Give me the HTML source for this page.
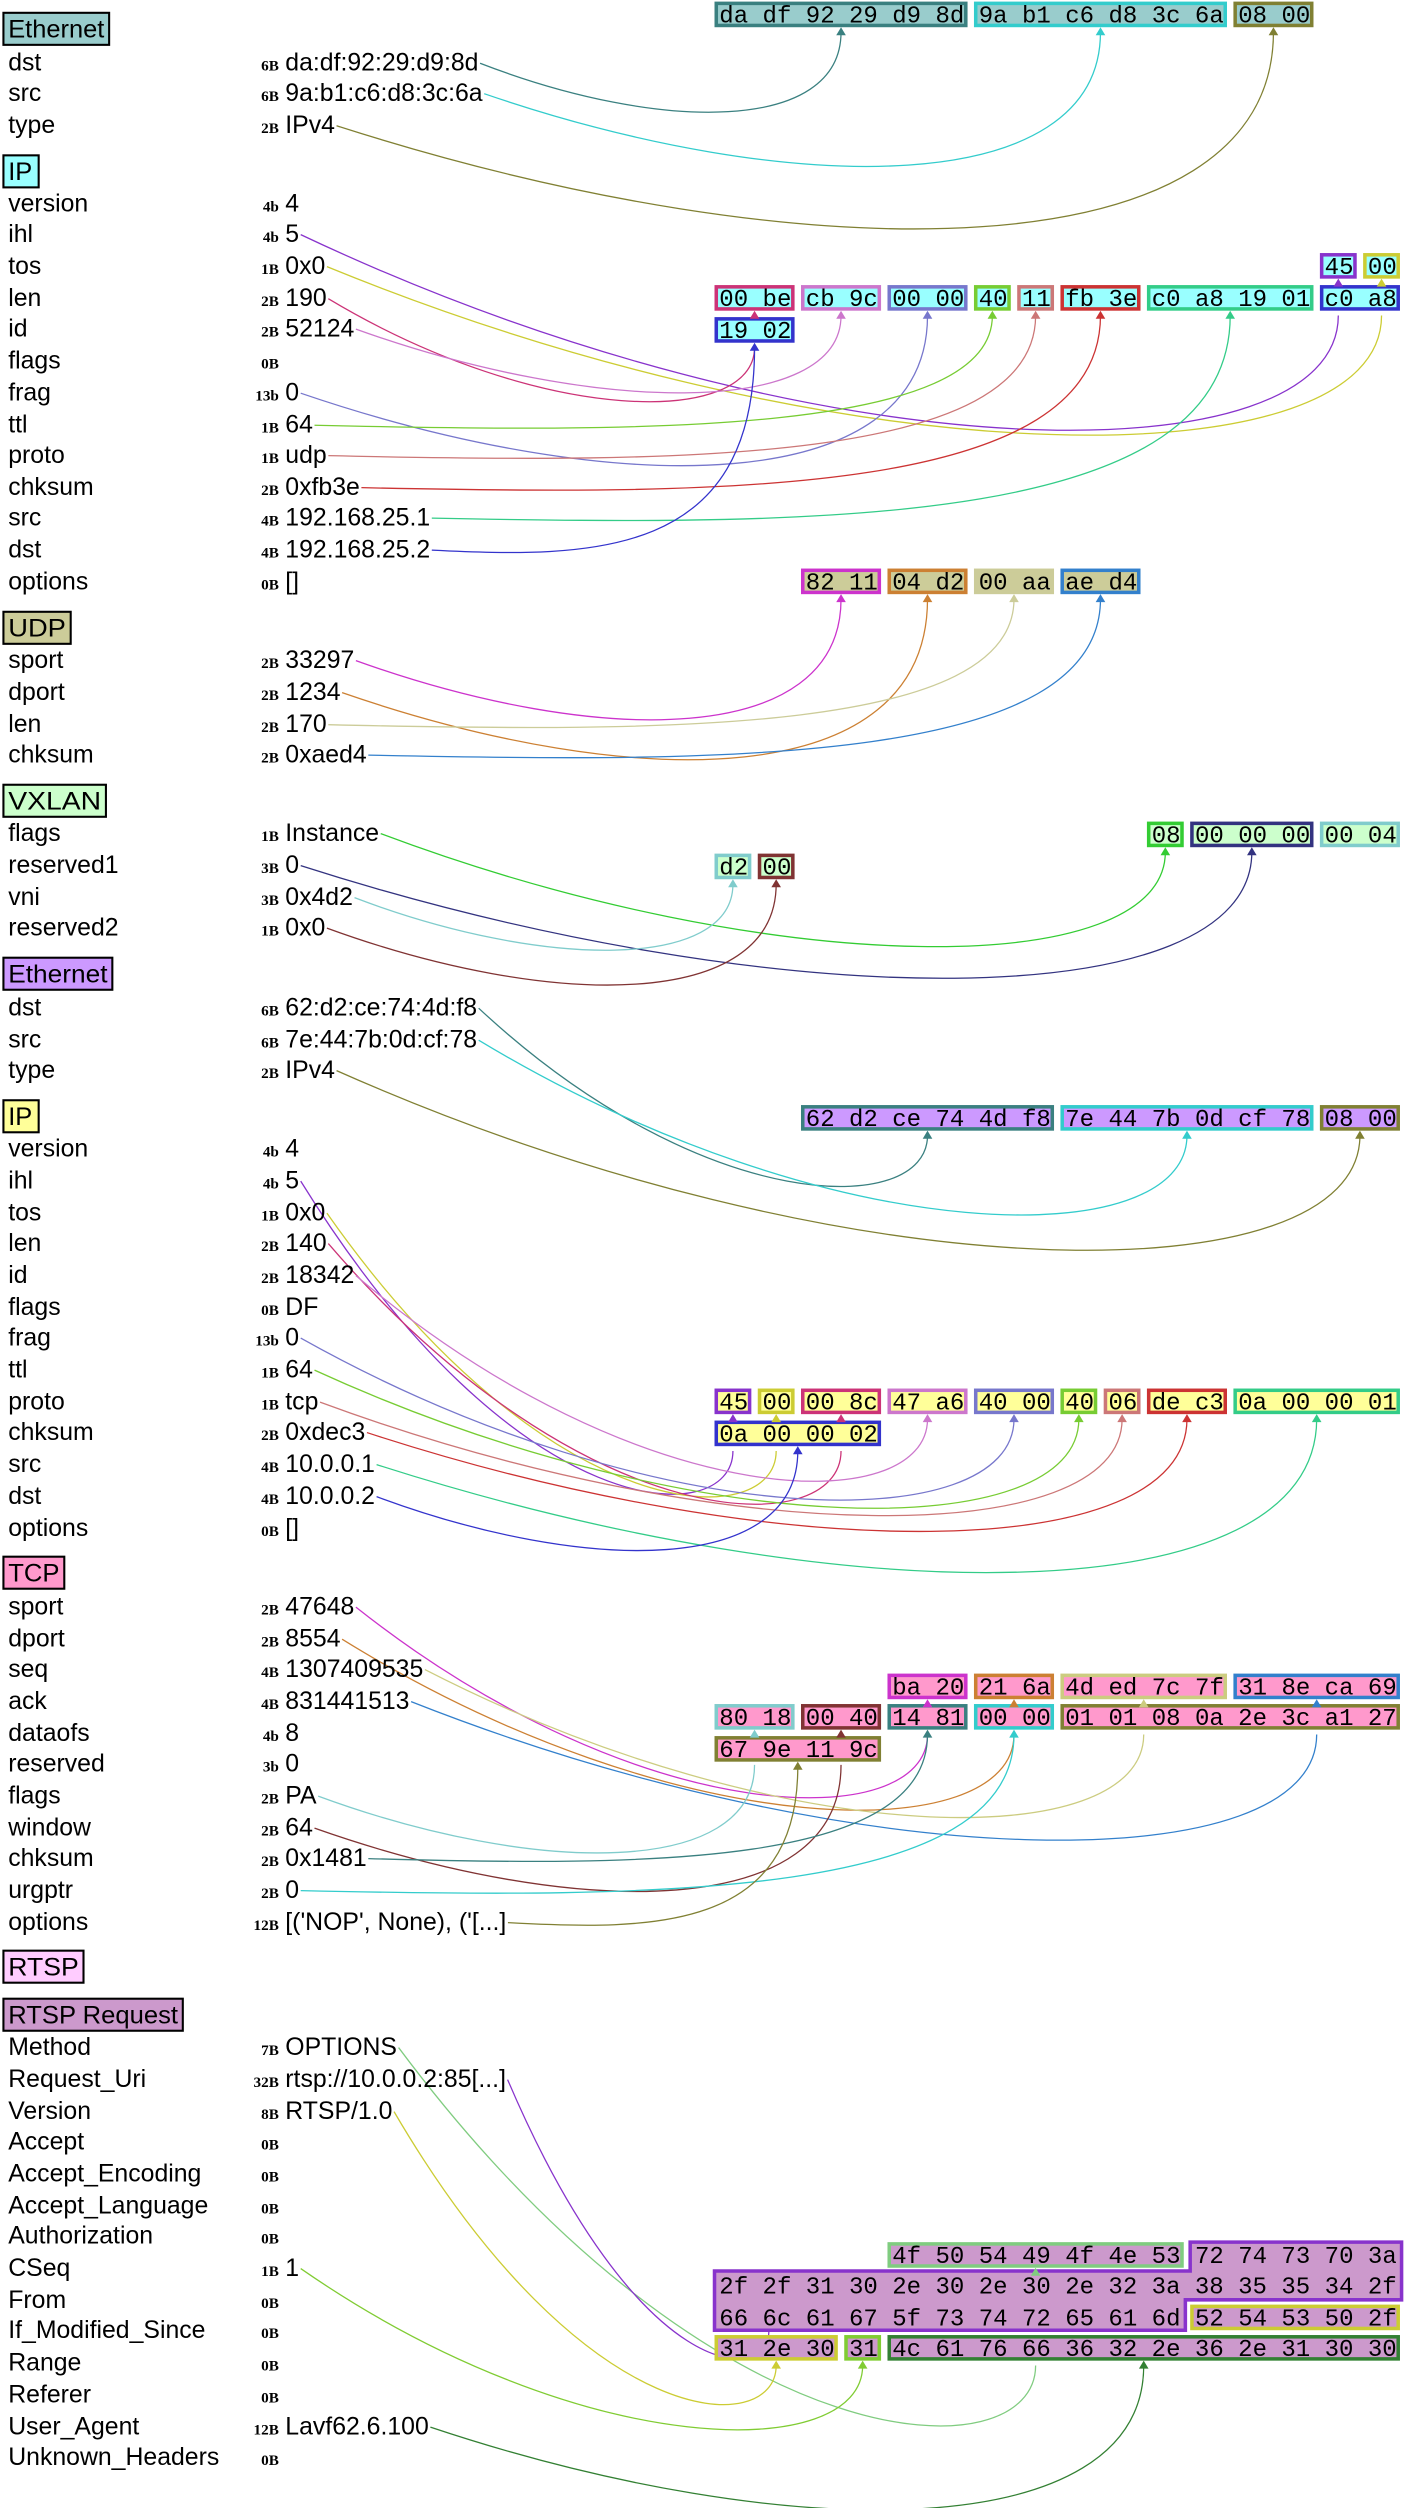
<!DOCTYPE html>
<html><head><meta charset="utf-8"><style>
html,body{margin:0;padding:0;background:#fff;}
svg{display:block;}
.n{font-family:"Liberation Sans",sans-serif;font-size:15.5px;fill:#000;}
.z{font-family:"Liberation Serif",serif;font-size:9.5px;font-weight:bold;fill:#000;text-anchor:end;}
.h{font-family:"Liberation Mono",monospace;font-size:15px;fill:#000;white-space:pre;}
</style></head><body>
<svg id="s" width="1405" height="2508" viewBox="0 0 877 1566" xmlns="http://www.w3.org/2000/svg">
<g id="paths" fill="none" stroke-width="0.8"></g>
<g id="boxes">
<path d="M743 1400 H875 V1436 H740 V1455 H446 V1418 H743 Z" fill="#cc99cc" stroke="#8833cc" stroke-width="2.2"/>
</g>
<g id="arrows"></g>
<g stroke="#000" stroke-width="1.3">
<rect x="2" y="8" width="66" height="20" fill="#99cccc"/>
<rect x="2" y="97" width="22" height="20" fill="#99ffff"/>
<rect x="2" y="382" width="42" height="20" fill="#cccc99"/>
<rect x="2" y="490" width="64" height="20" fill="#ccffcc"/>
<rect x="2" y="598" width="68" height="20" fill="#cc99ff"/>
<rect x="2" y="687" width="22" height="20" fill="#ffff99"/>
<rect x="2" y="972" width="38" height="20" fill="#ff99cc"/>
<rect x="2" y="1218" width="50" height="20" fill="#ffccff"/>
<rect x="2" y="1248" width="112" height="20" fill="#cc99cc"/>
</g>
<g class="n">
<text x="5" y="23.5" textLength="60" lengthAdjust="spacingAndGlyphs">Ethernet</text>
<text x="5" y="112.5" textLength="15" lengthAdjust="spacingAndGlyphs">IP</text>
<text x="5" y="397.5" textLength="36" lengthAdjust="spacingAndGlyphs">UDP</text>
<text x="5" y="505.5" textLength="58" lengthAdjust="spacingAndGlyphs">VXLAN</text>
<text x="5" y="613.5" textLength="62" lengthAdjust="spacingAndGlyphs">Ethernet</text>
<text x="5" y="702.5" textLength="15" lengthAdjust="spacingAndGlyphs">IP</text>
<text x="5" y="987.5" textLength="32" lengthAdjust="spacingAndGlyphs">TCP</text>
<text x="5" y="1233.5" textLength="44" lengthAdjust="spacingAndGlyphs">RTSP</text>
<text x="5" y="1263.5" textLength="106" lengthAdjust="spacingAndGlyphs">RTSP Request</text>
</g>
<g class="n">
<text x="5" y="44">dst</text><text x="5" y="63">src</text><text x="5" y="83">type</text>
<text x="5" y="132">version</text><text x="5" y="151">ihl</text><text x="5" y="171">tos</text><text x="5" y="191">len</text><text x="5" y="210">id</text><text x="5" y="230">flags</text><text x="5" y="250">frag</text><text x="5" y="270">ttl</text><text x="5" y="289">proto</text><text x="5" y="309">chksum</text><text x="5" y="328">src</text><text x="5" y="348">dst</text><text x="5" y="368">options</text>
<text x="5" y="417">sport</text><text x="5" y="437">dport</text><text x="5" y="457">len</text><text x="5" y="476">chksum</text>
<text x="5" y="525">flags</text><text x="5" y="545">reserved1</text><text x="5" y="565">vni</text><text x="5" y="584">reserved2</text>
<text x="5" y="634">dst</text><text x="5" y="654">src</text><text x="5" y="673">type</text>
<text x="5" y="722">version</text><text x="5" y="742">ihl</text><text x="5" y="762">tos</text><text x="5" y="781">len</text><text x="5" y="801">id</text><text x="5" y="821">flags</text><text x="5" y="840">frag</text><text x="5" y="860">ttl</text><text x="5" y="880">proto</text><text x="5" y="899">chksum</text><text x="5" y="919">src</text><text x="5" y="939">dst</text><text x="5" y="959">options</text>
<text x="5" y="1008">sport</text><text x="5" y="1028">dport</text><text x="5" y="1047">seq</text><text x="5" y="1067">ack</text><text x="5" y="1087">dataofs</text><text x="5" y="1106">reserved</text><text x="5" y="1126">flags</text><text x="5" y="1146">window</text><text x="5" y="1165">chksum</text><text x="5" y="1185">urgptr</text><text x="5" y="1205">options</text>
<text x="5" y="1283">Method</text><text x="5" y="1303">Request_Uri</text><text x="5" y="1323">Version</text><text x="5" y="1342">Accept</text><text x="5" y="1362">Accept_Encoding</text><text x="5" y="1382">Accept_Language</text><text x="5" y="1401">Authorization</text><text x="5" y="1421">CSeq</text><text x="5" y="1441">From</text><text x="5" y="1460">If_Modified_Since</text><text x="5" y="1480">Range</text><text x="5" y="1500">Referer</text><text x="5" y="1520">User_Agent</text><text x="5" y="1539">Unknown_Headers</text>
</g>
<g class="z">
<text x="174" y="44">6B</text><text x="174" y="63">6B</text><text x="174" y="83">2B</text>
<text x="174" y="132">4b</text><text x="174" y="151">4b</text><text x="174" y="171">1B</text><text x="174" y="191">2B</text><text x="174" y="210">2B</text><text x="174" y="230">0B</text><text x="174" y="250">13b</text><text x="174" y="270">1B</text><text x="174" y="289">1B</text><text x="174" y="309">2B</text><text x="174" y="328">4B</text><text x="174" y="348">4B</text><text x="174" y="368">0B</text>
<text x="174" y="417">2B</text><text x="174" y="437">2B</text><text x="174" y="457">2B</text><text x="174" y="476">2B</text>
<text x="174" y="525">1B</text><text x="174" y="545">3B</text><text x="174" y="565">3B</text><text x="174" y="584">1B</text>
<text x="174" y="634">6B</text><text x="174" y="654">6B</text><text x="174" y="673">2B</text>
<text x="174" y="722">4b</text><text x="174" y="742">4b</text><text x="174" y="762">1B</text><text x="174" y="781">2B</text><text x="174" y="801">2B</text><text x="174" y="821">0B</text><text x="174" y="840">13b</text><text x="174" y="860">1B</text><text x="174" y="880">1B</text><text x="174" y="899">2B</text><text x="174" y="919">4B</text><text x="174" y="939">4B</text><text x="174" y="959">0B</text>
<text x="174" y="1008">2B</text><text x="174" y="1028">2B</text><text x="174" y="1047">4B</text><text x="174" y="1067">4B</text><text x="174" y="1087">4b</text><text x="174" y="1106">3b</text><text x="174" y="1126">2B</text><text x="174" y="1146">2B</text><text x="174" y="1165">2B</text><text x="174" y="1185">2B</text><text x="174" y="1205">12B</text>
<text x="174" y="1283">7B</text><text x="174" y="1303">32B</text><text x="174" y="1323">8B</text><text x="174" y="1342">0B</text><text x="174" y="1362">0B</text><text x="174" y="1382">0B</text><text x="174" y="1401">0B</text><text x="174" y="1421">1B</text><text x="174" y="1441">0B</text><text x="174" y="1460">0B</text><text x="174" y="1480">0B</text><text x="174" y="1500">0B</text><text x="174" y="1520">12B</text><text x="174" y="1539">0B</text>
</g>
<g class="n">
<text x="178" y="44" id="e1dst">da:df:92:29:d9:8d</text><text x="178" y="63" id="e1src">9a:b1:c6:d8:3c:6a</text><text x="178" y="83" id="e1type">IPv4</text>
<text x="178" y="132">4</text><text x="178" y="151" id="i1ihl">5</text><text x="178" y="171" id="i1tos">0x0</text><text x="178" y="191" id="i1len">190</text><text x="178" y="210" id="i1id">52124</text><text x="178" y="250" id="i1frag">0</text><text x="178" y="270" id="i1ttl">64</text><text x="178" y="289" id="i1proto">udp</text><text x="178" y="309" id="i1ck">0xfb3e</text><text x="178" y="328" id="i1src">192.168.25.1</text><text x="178" y="348" id="i1dst">192.168.25.2</text><text x="178" y="368">[]</text>
<text x="178" y="417" id="usp">33297</text><text x="178" y="437" id="udp">1234</text><text x="178" y="457" id="ulen">170</text><text x="178" y="476" id="uck">0xaed4</text>
<text x="178" y="525" id="vfl">Instance</text><text x="178" y="545" id="vr1">0</text><text x="178" y="565" id="vni">0x4d2</text><text x="178" y="584" id="vr2">0x0</text>
<text x="178" y="634" id="e2dst">62:d2:ce:74:4d:f8</text><text x="178" y="654" id="e2src">7e:44:7b:0d:cf:78</text><text x="178" y="673" id="e2type">IPv4</text>
<text x="178" y="722">4</text><text x="178" y="742" id="i2ihl">5</text><text x="178" y="762" id="i2tos">0x0</text><text x="178" y="781" id="i2len">140</text><text x="178" y="801" id="i2id">18342</text><text x="178" y="821">DF</text><text x="178" y="840" id="i2frag">0</text><text x="178" y="860" id="i2ttl">64</text><text x="178" y="880" id="i2proto">tcp</text><text x="178" y="899" id="i2ck">0xdec3</text><text x="178" y="919" id="i2src">10.0.0.1</text><text x="178" y="939" id="i2dst">10.0.0.2</text><text x="178" y="959">[]</text>
<text x="178" y="1008" id="tsp">47648</text><text x="178" y="1028" id="tdp">8554</text><text x="178" y="1047" id="tseq">1307409535</text><text x="178" y="1067" id="tack">831441513</text><text x="178" y="1087">8</text><text x="178" y="1106">0</text><text x="178" y="1126" id="tfl">PA</text><text x="178" y="1146" id="twin">64</text><text x="178" y="1165" id="tck">0x1481</text><text x="178" y="1185" id="turg">0</text><text x="178" y="1205" id="topt">[('NOP', None), ('[...]</text>
<text x="178" y="1283" id="rm">OPTIONS</text><text x="178" y="1303" id="ruri">rtsp://10.0.0.2:85[...]</text><text x="178" y="1323" id="rver">RTSP/1.0</text><text x="178" y="1421" id="rcseq">1</text><text x="178" y="1520" id="rua">Lavf62.6.100</text>
</g>
<g class="h">
<text x="449" y="14">da df 92 29 d9 8d</text><text x="611" y="14">9a b1 c6 d8 3c 6a</text><text x="773" y="14">08 00</text>
<text x="827" y="171">45</text><text x="854" y="171">00</text>
<text x="449" y="191">00 be</text><text x="503" y="191">cb 9c</text><text x="557" y="191">00 00</text><text x="611" y="191">40</text><text x="638" y="191">11</text><text x="665" y="191">fb 3e</text><text x="719" y="191">c0 a8 19 01</text><text x="827" y="191">c0 a8</text>
<text x="449" y="211">19 02</text>
<text x="503" y="368">82 11</text><text x="557" y="368">04 d2</text><text x="611" y="368">00 aa</text><text x="665" y="368">ae d4</text>
<text x="719" y="526">08</text><text x="746" y="526">00 00 00</text><text x="827" y="526">00 04</text>
<text x="449" y="546">d2</text><text x="476" y="546">00</text>
<text x="503" y="703">62 d2 ce 74 4d f8</text><text x="665" y="703">7e 44 7b 0d cf 78</text><text x="827" y="703">08 00</text>
<text x="449" y="880">45</text><text x="476" y="880">00</text><text x="503" y="880">00 8c</text><text x="557" y="880">47 a6</text><text x="611" y="880">40 00</text><text x="665" y="880">40</text><text x="692" y="880">06</text><text x="719" y="880">de c3</text><text x="773" y="880">0a 00 00 01</text>
<text x="449" y="900">0a 00 00 02</text>
<text x="557" y="1058">ba 20</text><text x="611" y="1058">21 6a</text><text x="665" y="1058">4d ed 7c 7f</text><text x="773" y="1058">31 8e ca 69</text>
<text x="449" y="1077">80 18</text><text x="503" y="1077">00 40</text><text x="557" y="1077">14 81</text><text x="611" y="1077">00 00</text><text x="665" y="1077">01 01 08 0a 2e 3c a1 27</text>
<text x="449" y="1097">67 9e 11 9c</text>
<text x="557" y="1413">4f 50 54 49 4f 4e 53</text><text x="746" y="1413">72 74 73 70 3a</text>
<text x="449" y="1432">2f 2f 31 30 2e 30 2e 30 2e 32 3a 38 35 35 34 2f</text>
<text x="449" y="1452">66 6c 61 67 5f 73 74 72 65 61 6d</text><text x="746" y="1452">52 54 53 50 2f</text>
<text x="449" y="1471">31 2e 30</text><text x="530" y="1471">31</text><text x="557" y="1471">4c 61 76 66 36 32 2e 36 2e 31 30 30</text>
</g>
</svg>
<script>
(function(){
var NS="http://www.w3.org/2000/svg";
function el(g,t,a){var e=document.createElementNS(NS,t);for(var k in a)e.setAttribute(k,a[k]);document.getElementById(g).appendChild(e);return e;}
function cx(c){return 446+27*c;}
var E1='#99cccc',I1='#99ffff',U='#cccc99',V='#ccffcc',E2='#cc99ff',I2='#ffff99',T='#ff99cc',R='#cc99cc';
var B=[
[1,0,6,'#3a8080',E1,'e1dst'],[1,6,6,'#33cccc',E1,'e1src'],[1,12,2,'#808033',E1,'e1type'],
[158,14,1,'#8833cc',I1,'i1ihl',194],[158,15,1,'#cccc33',I1,'i1tos',194],
[178,0,2,'#cc3377',I1,'i1len',214],[178,2,2,'#cc77cc',I1,'i1id'],[178,4,2,'#7777cc',I1,'i1frag'],[178,6,1,'#77cc33',I1,'i1ttl'],[178,7,1,'#cc7777',I1,'i1proto'],[178,8,2,'#cc3333',I1,'i1ck'],[178,10,4,'#33cc88',I1,'i1src'],[178,14,2,'#3333cc',I1,null],[198,0,2,'#3333cc',I1,'i1dst'],
[355,2,2,'#cc33cc',U,'usp'],[355,4,2,'#cc8033',U,'udp'],[355,6,2,'#cccc99',U,'ulen'],[355,8,2,'#3380cc',U,'uck'],
[513,10,1,'#33cc33',V,'vfl'],[513,11,3,'#333380',V,'vr1'],[513,14,2,'#80cccc',V,null],[533,0,1,'#80cccc',V,'vni'],[533,1,1,'#803333',V,'vr2'],
[690,2,6,'#3a8080',E2,'e2dst'],[690,8,6,'#33cccc',E2,'e2src'],[690,14,2,'#808033',E2,'e2type'],
[867,0,1,'#8833cc',I2,'i2ihl',903],[867,1,1,'#cccc33',I2,'i2tos',903],[867,2,2,'#cc3377',I2,'i2len',903],[867,4,2,'#cc77cc',I2,'i2id'],[867,6,2,'#7777cc',I2,'i2frag'],[867,8,1,'#77cc33',I2,'i2ttl'],[867,9,1,'#cc7777',I2,'i2proto'],[867,10,2,'#cc3333',I2,'i2ck'],[867,12,4,'#33cc88',I2,'i2src'],[887,0,4,'#3333cc',I2,'i2dst'],
[1045,4,2,'#cc33cc',T,'tsp',1080],[1045,6,2,'#cc8033',T,'tdp',1080],[1045,8,4,'#cccc80',T,'tseq',1080],[1045,12,4,'#3380cc',T,'tack',1080],[1064,0,2,'#80cccc',T,'tfl',1099],[1064,2,2,'#803333',T,'twin',1099],[1064,4,2,'#3a8080',T,'tck'],[1064,6,2,'#33cccc',T,'turg'],[1064,8,8,'#808033',T,null],[1084,0,4,'#808033',T,'topt'],
[1400,4,7,'#80cc80',R,'rm',1474],[1439,11,5,'#cccc33',R,null],[1458,0,3,'#cccc33',R,'rver'],[1458,3,1,'#80cc33',R,'rcseq'],[1458,4,12,'#338033',R,'rua']
];
function line(id,tx,ty,col){
 var t=document.getElementById(id);var x0,y0;
 try{x0=178+t.getComputedTextLength()+1;}catch(e){x0=230;}
 y0=parseFloat(t.getAttribute('y'))-4.5;
 var dx=tx-x0,yL;
 if(y0>ty+60)yL=y0+5;else yL=Math.max(y0,ty)+0.14*dx+12;
 el('paths','path',{d:'M'+x0+' '+y0+' C'+(x0+dx*0.5)+' '+yL+' '+tx+' '+yL+' '+tx+' '+ty,stroke:col});
}
B.forEach(function(b){
 var x=cx(b[1]),w=27*b[2]-4,top=b[0];
 el('boxes','rect',{x:x+1.1,y:top+1.1,width:w-2.2,height:13.8,fill:b[4],stroke:b[3],'stroke-width':2.2});
 if(b[5]){
  var tx=x+w/2,by=top+16;
  el('arrows','path',{d:'M'+(tx-3)+' '+(by+5)+' L'+(tx+3)+' '+(by+5)+' L'+tx+' '+by+' Z',fill:b[3]});
  line(b[5],tx,(b[6]||by)+3,b[3]);
 }
});
line('ruri',480,1455,'#8833cc');
})();
</script>
</body></html>
